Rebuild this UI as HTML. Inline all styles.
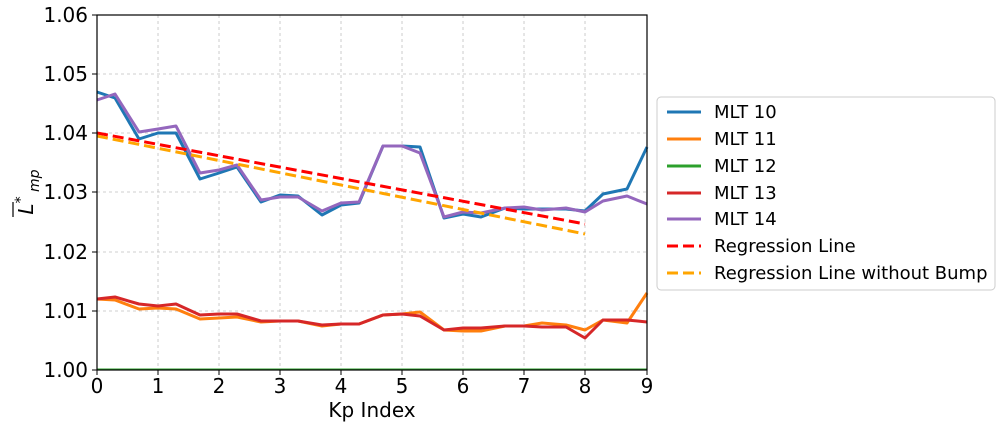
<!DOCTYPE html><html><head><style>body{margin:0;background:#fff}svg{font-family:"DejaVu Sans","Liberation Sans",sans-serif}</style></head><body>
<svg width="1006" height="430" xmlns="http://www.w3.org/2000/svg">
<g stroke="#b0b0b0" stroke-width="0.8" stroke-dasharray="3,3" opacity="0.8">
<line x1="158" y1="15" x2="158" y2="370"/><line x1="219" y1="15" x2="219" y2="370"/><line x1="280" y1="15" x2="280" y2="370"/><line x1="341" y1="15" x2="341" y2="370"/><line x1="402" y1="15" x2="402" y2="370"/><line x1="463" y1="15" x2="463" y2="370"/><line x1="524" y1="15" x2="524" y2="370"/><line x1="585" y1="15" x2="585" y2="370"/>
<line x1="97" y1="74" x2="647" y2="74"/><line x1="97" y1="133" x2="647" y2="133"/><line x1="97" y1="192" x2="647" y2="192"/><line x1="97" y1="252" x2="647" y2="252"/><line x1="97" y1="311" x2="647" y2="311"/>
</g>
<g fill="none" stroke-width="3" stroke-linejoin="round">
<polyline stroke="#1f77b4" points="97,92 115,98 139,139 158,133 176,133 200,179 219,173 237,167 261,202 280,195 298,196 322,215 341,205 359,203 383,146 402,146 420,147 444,218 463,214 481,217 505,208 524,209 542,209 566,209 585,211 603,194 627,189 647,147"/>
<polyline stroke="#ff7f0e" points="97,299 115,300 139,309 158,308 176,309 200,319 219,318 237,317 261,322 280,321 298,321 322,326 341,324 359,324 383,315 402,314 420,312 444,330 463,331 481,331 505,326 524,326 542,323 566,325 585,330 603,320 627,323 647,293"/>
<line stroke="#2ca02c" stroke-width="2" x1="97" y1="369.5" x2="647" y2="369.5"/>
<polyline stroke="#d62728" points="97,299 115,297 139,304 158,306 176,304 200,315 219,314 237,314 261,321 280,321 298,321 322,325 341,324 359,324 383,315 402,314 420,316 444,330 463,328 481,328 505,326 524,326 542,327 566,327 585,338 603,320 627,320 647,322"/>
<polyline stroke="#9467bd" points="97,100 115,94 139,132 158,129 176,126 200,173 219,170 237,165 261,200 280,197 298,197 322,211 341,203 359,202 383,146 402,146 420,153 444,217 463,212 481,213 505,208 524,207 542,210 566,208 585,212 603,201 627,196 647,204"/>
<line stroke="#ff0000" stroke-dasharray="11,5" x1="97" y1="133" x2="585" y2="224"/>
<line stroke="#ffa500" stroke-dasharray="11,5" x1="97" y1="136" x2="585" y2="234"/>
</g>
<rect x="97" y="15" width="550" height="355" fill="none" stroke="#000" stroke-width="1.2"/>
<g stroke="#000"><line x1="97" y1="370" x2="97" y2="375"/><line x1="158" y1="370" x2="158" y2="375"/><line x1="219" y1="370" x2="219" y2="375"/><line x1="280" y1="370" x2="280" y2="375"/><line x1="341" y1="370" x2="341" y2="375"/><line x1="402" y1="370" x2="402" y2="375"/><line x1="463" y1="370" x2="463" y2="375"/><line x1="524" y1="370" x2="524" y2="375"/><line x1="585" y1="370" x2="585" y2="375"/><line x1="647" y1="370" x2="647" y2="375"/>
<line x1="92" y1="15" x2="97" y2="15"/><line x1="92" y1="74" x2="97" y2="74"/><line x1="92" y1="133" x2="97" y2="133"/><line x1="92" y1="192" x2="97" y2="192"/><line x1="92" y1="252" x2="97" y2="252"/><line x1="92" y1="311" x2="97" y2="311"/><line x1="92" y1="370" x2="97" y2="370"/></g>
<g font-size="20" text-anchor="middle"><text x="97" y="393">0</text><text x="158" y="393">1</text><text x="219" y="393">2</text><text x="280" y="393">3</text><text x="341" y="393">4</text><text x="402" y="393">5</text><text x="463" y="393">6</text><text x="524" y="393">7</text><text x="585" y="393">8</text><text x="647" y="393">9</text>
<text x="372" y="417">Kp Index</text></g>
<g font-size="20" text-anchor="end"><text x="88" y="22">1.06</text><text x="88" y="81">1.05</text><text x="88" y="140">1.04</text><text x="88" y="199">1.03</text><text x="88" y="259">1.02</text><text x="88" y="318">1.01</text><text x="88" y="377">1.00</text></g>
<g transform="translate(33,192) rotate(-90)"><text font-size="20" font-style="italic" text-anchor="middle">L<tspan font-size="14" dy="-8">*</tspan><tspan font-size="14" dy="14"> mp</tspan></text><line x1="-25" y1="-20" x2="-10" y2="-20" stroke="#000" stroke-width="1.2"/></g>
<rect x="657" y="97" width="338" height="193" rx="4" fill="#fff" stroke="#ccc"/>
<g stroke-width="3"><line x1="667" y1="112" x2="701" y2="112" stroke="#1f77b4"/><line x1="667" y1="139" x2="701" y2="139" stroke="#ff7f0e"/><line x1="667" y1="166" x2="701" y2="166" stroke="#2ca02c"/><line x1="667" y1="193" x2="701" y2="193" stroke="#d62728"/><line x1="667" y1="219" x2="701" y2="219" stroke="#9467bd"/><line x1="667" y1="246" x2="701" y2="246" stroke="#ff0000" stroke-dasharray="11,5"/><line x1="667" y1="273" x2="701" y2="273" stroke="#ffa500" stroke-dasharray="11,5"/></g>
<g font-size="18"><text x="714" y="118">MLT 10</text><text x="714" y="145">MLT 11</text><text x="714" y="172">MLT 12</text><text x="714" y="199">MLT 13</text><text x="714" y="225">MLT 14</text><text x="714" y="252">Regression Line</text><text x="714" y="279">Regression Line without Bump</text></g>
</svg></body></html>
